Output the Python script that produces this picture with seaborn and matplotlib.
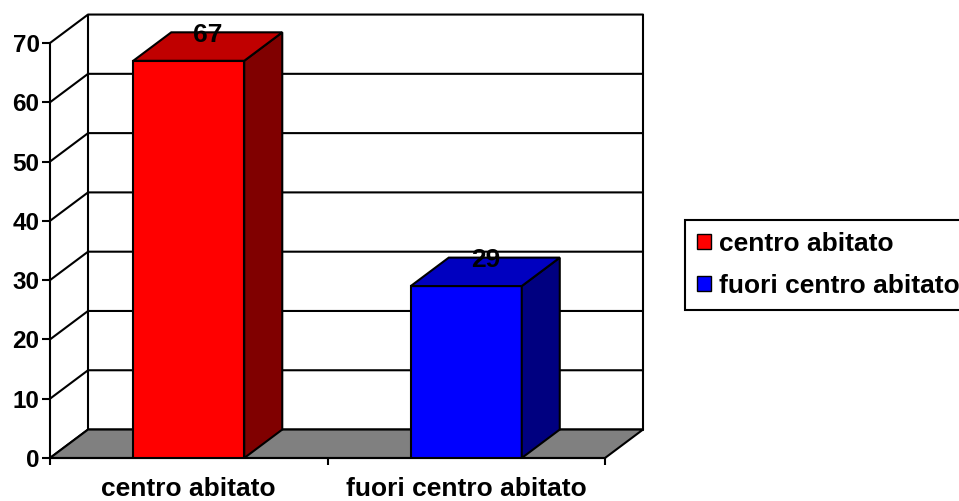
import matplotlib
matplotlib.use('Agg')
import matplotlib.pyplot as plt
from matplotlib.patches import Patch, Polygon
import seaborn as sns

categories = ['centro abitato', 'fuori centro abitato']
values = [67, 29]
front_colors = ['#ff0000', '#0000ff']
top_colors = ['#c00000', '#0000c0']
side_colors = ['#800000', '#000080']
y_ticks = [0, 10, 20, 30, 40, 50, 60, 70]

# fake 3D depth, in data units (category width / value units)
DX = 0.137
DY = 4.8
EDGE = 1.5

sns.set_style('ticks')
plt.rcParams['font.family'] = ['Liberation Sans', 'DejaVu Sans']
plt.rcParams['font.weight'] = 'bold'
plt.rcParams['text.color'] = 'black'

fig = plt.figure(figsize=(9.59, 5.01), dpi=100)
ax = fig.add_axes([50 / 959, 43 / 501, 555 / 959, 415 / 501])

x0, x1 = -0.5, len(categories) - 0.5
ymax = y_ticks[-1]

# back wall + left wall gridlines
for v in y_ticks:
    ax.plot([x0, x0 + DX, x1 + DX], [v, v + DY, v + DY],
            color='black', lw=EDGE, zorder=0.5, clip_on=False)
for xv in (x0 + DX, x1 + DX):
    ax.plot([xv, xv], [DY, ymax + DY], color='black', lw=EDGE, zorder=0.5, clip_on=False)

# floor
ax.add_patch(Polygon([(x0, 0), (x1, 0), (x1 + DX, DY), (x0 + DX, DY)], closed=True,
                     facecolor='#808080', edgecolor='black', lw=EDGE, zorder=1, clip_on=False))

sns.barplot(x=categories, y=values, hue=categories, palette=front_colors, width=0.4,
            saturation=1, edgecolor='black', linewidth=EDGE, legend=False, ax=ax, zorder=3)

bars = [b for c in ax.containers for b in c if b.get_height() == b.get_height()]
bars.sort(key=lambda b: b.get_x())
for bar, v, top_c, side_c in zip(bars, values, top_colors, side_colors):
    bx0 = bar.get_x()
    bx1 = bx0 + bar.get_width()
    h = bar.get_height()
    ax.add_patch(Polygon([(bx1, 0), (bx1 + DX, DY), (bx1 + DX, h + DY), (bx1, h)], closed=True,
                         facecolor=side_c, edgecolor='black', lw=EDGE, zorder=3, clip_on=False))
    ax.add_patch(Polygon([(bx0, h), (bx1, h), (bx1 + DX, h + DY), (bx0 + DX, h + DY)], closed=True,
                         facecolor=top_c, edgecolor='black', lw=EDGE, zorder=3, clip_on=False))
    ax.text(bx0 + bar.get_width() / 2 + DX / 2, h + DY / 2 + 0.8, f'{v:g}', color='black',
            ha='center', va='baseline', fontsize=19, fontweight='bold', zorder=5, clip_on=False)

ax.set_xlim(x0, x1)
ax.set_ylim(0, ymax)
ax.set_yticks(y_ticks)
ax.set_xticks(range(len(categories)), categories)
ax.set_xticks([x0 + i for i in range(len(categories) + 1)], minor=True)
ax.set_xlabel('')
ax.set_ylabel('')
ax.grid(False)
for side in ('top', 'right'):
    ax.spines[side].set_visible(False)
for side in ('left', 'bottom'):
    ax.spines[side].set_color('black')
    ax.spines[side].set_linewidth(EDGE)
ax.tick_params(axis='y', left=True, length=6, width=EDGE, direction='out',
               labelsize=17.5, pad=1.5, colors='black')
ax.tick_params(axis='x', which='major', bottom=True, length=0, labelsize=19, pad=14,
               colors='black')
ax.tick_params(axis='x', which='minor', bottom=True, length=5, width=EDGE, direction='out',
               color='black')

handles = [Patch(facecolor=c, edgecolor='black', linewidth=1) for c in front_colors]
leg = fig.legend(handles, categories, loc='upper left', bbox_to_anchor=(685 / 959, 1 - 220 / 501),
                 frameon=True, fancybox=False, edgecolor='black', framealpha=1, fontsize=19,
                 handlelength=0.55, handleheight=0.55, handletextpad=0.3, labelspacing=0.68,
                 borderpad=0.45, borderaxespad=0)
leg.get_frame().set_linewidth(EDGE)
for t in leg.get_texts():
    t.set_color('black')

fig.savefig('out.png', dpi=100)
